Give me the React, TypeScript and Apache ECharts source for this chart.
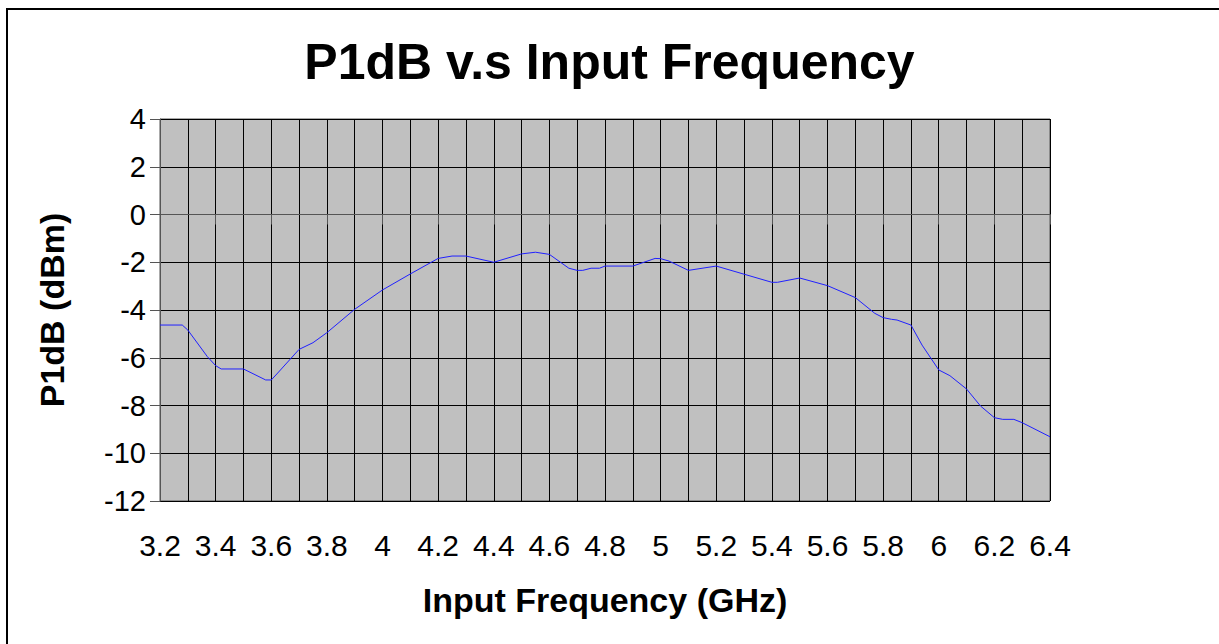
import React, { useEffect, useRef } from "react";
import * as echarts from "echarts";

const chartTitle = "P1dB v.s Input Frequency";
const xAxisTitle = "Input Frequency (GHz)";
const yAxisTitle = "P1dB (dBm)";

const freqGHz = [
  3.2, 3.28, 3.3, 3.37, 3.4, 3.42, 3.5, 3.58, 3.6, 3.62, 3.7, 3.75, 3.8, 3.9,
  4.0, 4.1, 4.2, 4.25, 4.3, 4.4, 4.5, 4.55, 4.6, 4.67, 4.7, 4.72, 4.75, 4.78,
  4.8, 4.9, 4.98, 5.0, 5.03, 5.1, 5.2, 5.3, 5.4, 5.42, 5.5, 5.6, 5.7, 5.77,
  5.8, 5.83, 5.85, 5.9, 5.94, 6.0, 6.04, 6.1, 6.15, 6.2, 6.23, 6.27, 6.3, 6.4,
];
const p1dB = [
  -4.63, -4.63, -4.84, -5.95, -6.33, -6.47, -6.47, -6.93, -6.93, -6.68, -5.65,
  -5.37, -4.95, -3.97, -3.16, -2.49, -1.84, -1.74, -1.74, -2.0, -1.65, -1.58,
  -1.67, -2.25, -2.34, -2.34, -2.25, -2.25, -2.16, -2.16, -1.84, -1.85, -1.95,
  -2.34, -2.16, -2.5, -2.84, -2.84, -2.66, -2.98, -3.48, -4.14, -4.32, -4.39,
  -4.42, -4.63, -5.47, -6.51, -6.75, -7.31, -8.02, -8.51, -8.58, -8.58, -8.72,
  -9.31,
];

const xMin = 3.2;
const xMax = 6.4;
const yMin = -12;
const yMax = 4;

const FONT = "'Liberation Sans', Arial, sans-serif";

export default function App() {
  const ref = useRef<HTMLDivElement>(null);
  useEffect(() => {
    if (!ref.current) return;
    const chart = echarts.init(ref.current, null, { renderer: "svg" });
    const data = freqGHz.map((f, i) => [f, p1dB[i]]);
    chart.setOption({
      animation: false,
      backgroundColor: "#ffffff",
      textStyle: { fontFamily: FONT },
      title: {
        text: chartTitle,
        left: "center",
        top: 32,
        textStyle: { fontSize: 50, fontWeight: "bold", color: "#000", fontFamily: FONT },
      },
      graphic: [
        {
          type: "rect",
          shape: { x: 7, y: 9, width: 1300, height: 700 },
          style: { fill: "none", stroke: "#000", lineWidth: 2 },
          silent: true,
        },
      ],
      grid: {
        left: 160,
        right: 169,
        top: 119,
        bottom: 143,
        show: true,
        backgroundColor: "#C0C0C0",
        borderColor: "#555",
        borderWidth: 1,
        outerBoundsMode: "none",
      },
      xAxis: {
        type: "value",
        min: xMin,
        max: xMax,
        interval: 0.2,
        name: xAxisTitle,
        nameLocation: "middle",
        nameGap: 82,
        nameTextStyle: { fontSize: 34, fontWeight: "bold", color: "#000", fontFamily: FONT },
        axisLine: { show: true, lineStyle: { color: "#555", width: 1 } },
        axisTick: { show: true, length: 10, lineStyle: { color: "#555" } },
        minorTick: { show: false, splitNumber: 2 },
        minorSplitLine: { show: true, lineStyle: { color: "#000", width: 1 } },
        splitLine: { show: true, lineStyle: { color: "#000", width: 1 } },
        axisLabel: {
          margin: 29,
          fontSize: 30,
          color: "#000",
          fontFamily: FONT,
          formatter: (v: number) => String(Math.round(v * 10) / 10),
        },
      },
      yAxis: {
        type: "value",
        min: yMin,
        max: yMax,
        interval: 2,
        name: yAxisTitle,
        nameLocation: "middle",
        nameRotate: 90,
        nameGap: 91,
        nameTextStyle: { fontSize: 34, fontWeight: "bold", color: "#000", fontFamily: FONT },
        axisLine: { show: true, lineStyle: { color: "#555", width: 1 } },
        axisTick: { show: true, length: 10, lineStyle: { color: "#555" } },
        splitLine: { show: true, lineStyle: { color: "#000", width: 1 } },
        axisLabel: { margin: 14, fontSize: 29, color: "#000", fontFamily: FONT },
      },
      series: [
        {
          type: "line",
          data,
          showSymbol: false,
          symbol: "none",
          lineStyle: { color: "#2020ff", width: 1 },
        },
      ],
    });
    return () => chart.dispose();
  }, []);
  return (
    <div
      ref={ref}
      style={{ position: "fixed", left: 0, top: 0, width: 1219, height: 644 }}
    />
  );
}
